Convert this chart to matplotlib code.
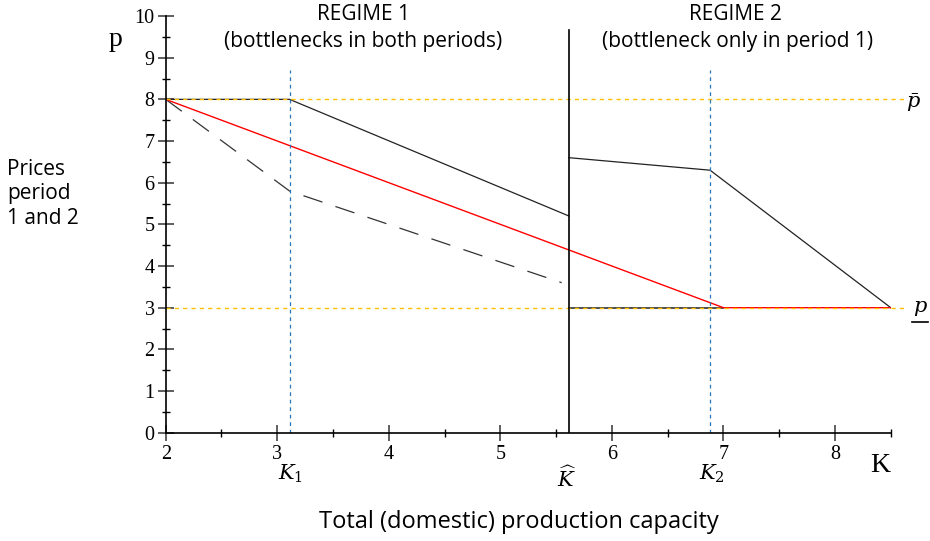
import matplotlib.pyplot as plt
from matplotlib.lines import Line2D
from matplotlib.ticker import MultipleLocator

plt.rcParams["mathtext.fontset"] = "dejavuserif"

# capacity thresholds
K1 = 3.11
K_HAT = 5.615
K2 = 6.88
P_HIGH = 8
P_LOW = 3

# price paths
upper_left_x = [2, K1, K_HAT]
upper_left_y = [8, 8, 5.2]
upper_right_x = [K_HAT, K2, 8.5]
upper_right_y = [6.6, 6.3, 3]
lower_x = [2, K1, 5.55]
lower_y = [8, 5.8, 3.6]
red_x = [2, 7, 8.5]
red_y = [8, 3, 3]
floor_x = [K_HAT, 7]
floor_y = [3, 3]

SERIF = "Liberation Serif"
SANS = "Open Sans"

fig = plt.figure(figsize=(9.3, 5.41), dpi=100)
ax = fig.add_axes([0.1782, 0.2002, 0.7796, 0.7702])

# black paths
ax.plot(upper_left_x, upper_left_y, color="#222222", lw=0.9)
ax.plot(upper_right_x, upper_right_y, color="#222222", lw=0.9)
ax.plot(lower_x, lower_y, color="#333333", lw=0.9, dashes=(16, 11))
ax.plot(floor_x, floor_y, color="#333333", lw=1.2)
ax.plot(red_x, red_y, color="red", lw=1.0)

# price bounds
for p in (P_HIGH, P_LOW):
    ax.plot([2, 8.64], [p, p], color="#FFC000", lw=1.0, ls=(0, (3, 3)), clip_on=False)

# capacity markers
ax.plot([K1, K1], [0, 8.7], color="#2E75B6", lw=0.9, ls=(0, (3, 3)))
ax.plot([K2, K2], [0, 8.7], color="#2E75B6", lw=0.9, ls=(0, (3, 3)))
ax.plot([K_HAT, K_HAT], [0, 9.66], color="black", lw=1.2)

ax.set_xlim(2, 8.5)
ax.set_ylim(0, 10)
for s in ("top", "right"):
    ax.spines[s].set_visible(False)
ax.spines["left"].set_linewidth(1.2)
ax.spines["bottom"].set_linewidth(1.2)
ax.xaxis.set_major_locator(MultipleLocator(1))
ax.xaxis.set_minor_locator(MultipleLocator(0.5))
ax.yaxis.set_major_locator(MultipleLocator(1))
ax.yaxis.set_minor_locator(MultipleLocator(0.5))
ax.tick_params(which="major", direction="inout", length=12, width=1.1, labelsize=14.5,
               pad=2, color="#333333")
ax.tick_params(which="minor", direction="inout", length=6, width=1.0)
for lab in ax.get_xticklabels() + ax.get_yticklabels():
    lab.set_fontfamily(SERIF)
ax.tick_params(axis="x", pad=3)

# texts
fig.text(116 / 930, 1 - 40 / 541, "p", fontsize=20, family=SERIF, ha="center", va="center")
fig.text(880 / 930, 1 - 466 / 541, "K", fontsize=20, family=SERIF, ha="center", va="center")
fig.text(7 / 930, 1 - 194 / 541, "Prices\nperiod\n1 and 2", fontsize=15, family=SANS,
         ha="left", va="center", linespacing=1.2)
fig.text(363 / 930, 1 - 14 / 541, "REGIME 1", fontsize=15, family=SANS, ha="center", va="center")
fig.text(363 / 930, 1 - 41 / 541, "(bottlenecks in both periods)", fontsize=15, family=SANS,
         ha="center", va="center")
fig.text(735 / 930, 1 - 14 / 541, "REGIME 2", fontsize=15, family=SANS, ha="center", va="center")
fig.text(738 / 930, 1 - 41 / 541, "(bottleneck only in period 1)", fontsize=15, family=SANS,
         ha="center", va="center")
fig.text(913 / 930, 1 - 103 / 541, r"$\bar{p}$", fontsize=15, ha="center", va="center")
fig.text(920 / 930, 1 - 308 / 541, r"$p$", fontsize=15, ha="center", va="center")
fig.add_artist(Line2D([912 / 930, 928 / 930], [1 - 322 / 541, 1 - 322 / 541],
                      color="black", lw=1.2, transform=fig.transFigure))
fig.text(291 / 930, 1 - 474 / 541, r"$K_1$", fontsize=15, ha="center", va="center")
fig.text(567 / 930, 1 - 478 / 541, r"$\widehat{K}$", fontsize=15, ha="center", va="center")
fig.text(712 / 930, 1 - 474 / 541, r"$K_2$", fontsize=15, ha="center", va="center")
fig.text(519 / 930, 1 - 522 / 541, "Total (domestic) production capacity", fontsize=17,
         family=SANS, ha="center", va="center")

fig.savefig("out.png", dpi=100)
